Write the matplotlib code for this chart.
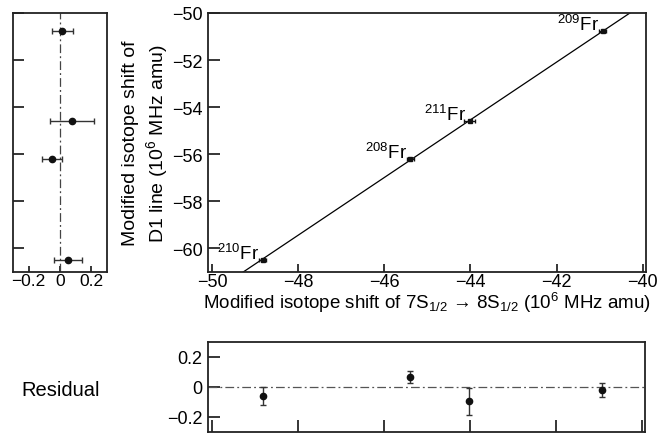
import matplotlib
matplotlib.use("Agg")
import matplotlib.pyplot as plt
import numpy as np

plt.rcParams['font.family'] = ['Liberation Sans', 'DejaVu Sans']
plt.rcParams['mathtext.fontset'] = 'custom'
plt.rcParams['mathtext.rm'] = 'Liberation Sans'
plt.rcParams['mathtext.it'] = 'Liberation Sans:italic'
plt.rcParams['mathtext.bf'] = 'Liberation Sans:bold'

# ---- data ----
isotopes = ['210', '208', '211', '209']
x_shift = [-48.83, -45.40, -44.02, -40.93]      # 7S1/2 -> 8S1/2 modified shift
x_err = [0.08, 0.08, 0.12, 0.08]
y_shift = [-60.50, -56.20, -54.60, -50.77]      # D1 modified shift
y_err = [0.04, 0.04, 0.04, 0.04]
fit_slope = 1.224
fit_intercept = -0.68
side_resid = [0.049, -0.053, 0.076, 0.015]      # left panel residuals
side_err = [0.09, 0.063, 0.14, 0.067]
resid = [-0.059, 0.066, -0.096, -0.020]         # bottom panel residuals
resid_err = [0.059, 0.042, 0.088, 0.045]
main_xticks = [-50, -48, -46, -44, -42, -40]
main_yticks = [-50, -52, -54, -56, -58, -60]
small_ticks = [-0.2, 0, 0.2]
small_labels = ['\u22120.2', '0', '0.2']

W, H = 661, 435
fig = plt.figure(figsize=(W / 100, H / 100), dpi=100)

def ax_px(x0, y0, x1, y1):
    return fig.add_axes([x0 / W, 1 - y1 / H, (x1 - x0) / W, (y1 - y0) / H])

ax_side = ax_px(13, 14, 107, 273)
ax_main = ax_px(208, 14, 646, 273)
ax_res = ax_px(208, 343, 645, 433)

spine_c = '#222222'
for ax in (ax_side, ax_main, ax_res):
    for s in ax.spines.values():
        s.set_linewidth(1.3)
        s.set_color(spine_c)

dash = (0, (7, 2.5, 1.5, 2.5))

# ---- main panel ----
ax_main.set_xlim(-50.1, -39.92)
ax_main.set_ylim(-61, -50)
xx = np.array(ax_main.get_xlim())
ax_main.plot(xx, fit_slope * xx + fit_intercept, color='black', lw=0.9)
ax_main.errorbar(x_shift, y_shift, xerr=x_err, yerr=y_err, fmt='s', ms=2.5,
                 color='#111111', ecolor='#111111', elinewidth=0.9, capsize=1.5)
for iso, xv, yv in zip(isotopes, x_shift, y_shift):
    ax_main.annotate(r'$^{%s}$Fr' % iso, (xv, yv), xytext=(-2.5, 1),
                     textcoords='offset points', ha='right', va='baseline',
                     fontsize=13.5)
ax_main.set_xticks(main_xticks)
ax_main.set_xticklabels([('\u2212%d' % abs(v)) for v in main_xticks])
ax_main.set_yticks(main_yticks)
ax_main.set_yticklabels([('\u2212%d' % abs(v)) for v in main_yticks])
ax_main.tick_params(axis='y', direction='in', length=8.5, width=1.1, labelsize=13, pad=4)
ax_main.tick_params(axis='x', direction='in', length=5.5, width=1.1, labelsize=13, pad=1)

# ---- left side panel ----
ax_side.set_ylim(-61, -50)
ax_side.set_xlim(-0.3, 0.3)
ax_side.axvline(0, color='#444444', lw=0.9, ls=dash)
ax_side.errorbar(side_resid, y_shift, xerr=side_err, fmt='o', ms=4.5,
                 color='#111111', ecolor='#333333', elinewidth=1.0, capsize=2.5)
ax_side.set_yticks(main_yticks)
ax_side.set_yticklabels([])
ax_side.set_xticks(small_ticks)
ax_side.set_xticklabels(small_labels)
ax_side.tick_params(axis='y', direction='in', length=8, width=1.1)
ax_side.tick_params(axis='x', direction='in', length=4.5, width=1.1, labelsize=12.5, pad=1)

# ---- residual panel ----
ax_res.set_xlim(-50.1, -39.92)
ax_res.set_ylim(-0.3, 0.3)
ax_res.axhline(0, color='#555555', lw=0.9, ls=dash)
ax_res.errorbar(x_shift, resid, yerr=resid_err, fmt='o', ms=4.5,
                color='#111111', ecolor='#333333', elinewidth=1.0, capsize=2)
ax_res.set_xticks(main_xticks)
ax_res.set_xticklabels([])
ax_res.set_yticks(small_ticks)
ax_res.set_yticklabels(small_labels)
ax_res.tick_params(axis='y', direction='in', length=8.5, width=1.1, labelsize=13, pad=4)
ax_res.tick_params(axis='x', direction='in', length=8.5, width=1.1)

# ---- labels ----
fig.text(146 / W, 1 - 143.5 / H,
         'Modified isotope shift of\nD1 line (10$^{6}$ MHz amu)',
         rotation=90, ha='center', va='center', fontsize=14, linespacing=1.25)
fig.text(427 / W, 1 - 309 / H,
         'Modified isotope shift of 7S$_{1/2}$ \u2192 8S$_{1/2}$ (10$^{6}$ MHz amu)',
         ha='center', va='baseline', fontsize=13.5)
fig.text(21 / W, 1 - 396 / H, 'Residual', ha='left', va='baseline', fontsize=14.5)

fig.savefig('out.png', dpi=100)
